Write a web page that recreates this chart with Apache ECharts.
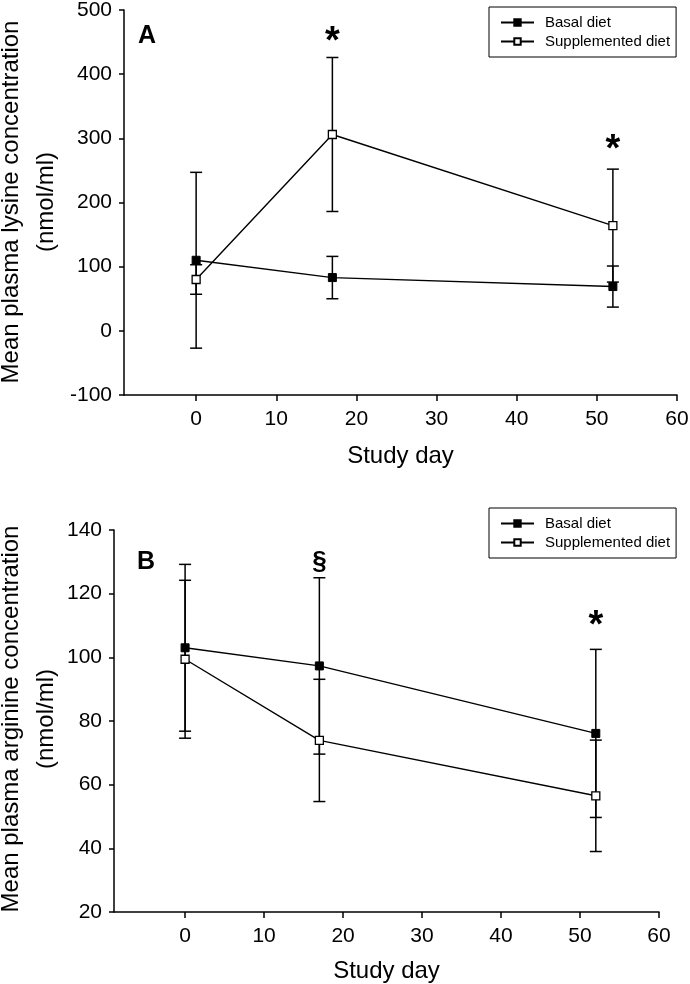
<!DOCTYPE html>
<html><head><meta charset="utf-8">
<script src="https://cdn.jsdelivr.net/npm/echarts@6/dist/echarts.min.js"></script>
<style>html,body{margin:0;padding:0;background:#fff}#c{width:690px;height:984px}</style>
</head><body><div id="c"></div>
<script>
// ---- data ----
const days = [0, 17, 52];
const xTicks = [0, 10, 20, 30, 40, 50, 60];
const lysineTicks = [-100, 0, 100, 200, 300, 400, 500];
const arginineTicks = [20, 40, 60, 80, 100, 120, 140];
const seriesNames = ['Basal diet', 'Supplemented diet'];
const lysineBasal = [110, 83, 69];
const lysineBasalSD = [137, 33, 32];
const lysineSupp = [80, 306, 164];
const lysineSuppSD = [23, 120, 88];
const arginineBasal = [103, 97.3, 76.1];
const arginineBasalSD = [26.2, 27.7, 26.4];
const arginineSupp = [99.4, 73.9, 56.5];
const arginineSuppSD = [24.8, 19.2, 17.5];
const lysineMarks = [[17, 459, '*'], [52, 291, '*']];
const arginineMarks = [[17, 130.6, '§'], [52, 111.7, '*']];
const panelLabels = ['A', 'B'];
const yTitleLines = [['Mean plasma lysine concentration', '(nmol/ml)'],
                     ['Mean plasma arginine concentration', '(nmol/ml)']];
const xTitle = 'Study day';

// ---- chart ----
const FF = '"Liberation Sans", Arial, Helvetica, sans-serif';
const chart = echarts.init(document.getElementById('c'), null, {renderer: 'canvas'});

function errSeries(ai, mean, sd) {
  return {
    type: 'custom', xAxisIndex: ai, yAxisIndex: ai, z: 1, silent: true, animation: false,
    data: days.map((d, i) => [d, mean[i] - sd[i], mean[i] + sd[i]]),
    renderItem(params, api) {
      const lo = api.coord([api.value(0), api.value(1)]);
      const hi = api.coord([api.value(0), api.value(2)]);
      const w = 6;
      const st = {stroke: '#000', lineWidth: 1.5};
      return {type: 'group', children: [
        {type: 'line', shape: {x1: lo[0], y1: lo[1], x2: hi[0], y2: hi[1]}, style: st},
        {type: 'line', shape: {x1: lo[0] - w, y1: lo[1], x2: lo[0] + w, y2: lo[1]}, style: st},
        {type: 'line', shape: {x1: hi[0] - w, y1: hi[1], x2: hi[0] + w, y2: hi[1]}, style: st}
      ]};
    }
  };
}
function lineSeries(ai, name, vals, open) {
  return {
    type: 'line', name: name, xAxisIndex: ai, yAxisIndex: ai, z: 3, animation: false,
    data: days.map((d, i) => [d, vals[i]]),
    symbol: 'rect', symbolSize: 8, showAllSymbol: true,
    lineStyle: {color: '#000', width: 1.4},
    itemStyle: open ? {color: '#fff', borderColor: '#000', borderWidth: 1.3}
                    : {color: '#000', borderColor: '#000', borderWidth: 1},
    emphasis: {disabled: true}
  };
}
function markSeries(ai, marks) {
  return {
    type: 'scatter', xAxisIndex: ai, yAxisIndex: ai, z: 4, silent: true, animation: false,
    data: marks.map(m => ({
      value: [m[0], m[1]],
      label: m[2] === '*' ? {show: true, formatter: m[2], fontSize: 38, offset: [0, 6]}
                          : {show: true, formatter: m[2], fontSize: 26, offset: [0, 2]}
    })),
    symbolSize: 1, itemStyle: {color: 'rgba(0,0,0,0)'},
    label: {show: true, position: 'inside', color: '#000', fontFamily: FF, fontWeight: 'bold', opacity: 1}
  };
}
function xAxis(ai) {
  return {
    type: 'value', gridIndex: ai, min: -9, max: 60,
    name: xTitle, nameLocation: 'middle', nameGap: ai ? 47 : 49,
    nameTextStyle: {fontSize: 24, color: '#000', fontFamily: FF},
    axisLine: {onZero: false, lineStyle: {color: '#000', width: 1.5}},
    axisTick: {show: true, length: 6, lineStyle: {color: '#000', width: 1.5}, customValues: xTicks},
    axisLabel: {fontSize: 21, color: '#000', fontFamily: FF, margin: 14, customValues: xTicks},
    splitLine: {show: false}
  };
}
function yAxis(ai, ticks) {
  return {
    type: 'value', gridIndex: ai, min: ticks[0], max: ticks[ticks.length - 1],
    interval: ticks[1] - ticks[0],
    axisLine: {show: true, onZero: false, lineStyle: {color: '#000', width: 1.5}},
    axisTick: {show: true, length: 5, lineStyle: {color: '#000', width: 1.5}},
    axisLabel: {fontSize: 21, color: '#000', fontFamily: FF, margin: 12},
    splitLine: {show: false}
  };
}
function legend(ai) {
  return {
    data: seriesNames, orient: 'vertical', left: 489, top: ai ? 508 : 7,
    selectedMode: false, borderColor: '#000', borderWidth: 1,
    padding: [8, 6, 8, 11], itemGap: 4, itemWidth: 33, itemHeight: 8,
    textStyle: {fontSize: 15, color: '#000', fontFamily: FF, padding: [0, 0, 0, 6]}
  };
}
function yTitle(lines, cy) {
  return [
    {type: 'text', x: 11, y: cy, rotation: Math.PI / 2,
     style: {text: lines[0], font: '24px ' + FF, fill: '#000', align: 'center', verticalAlign: 'middle'}},
    {type: 'text', x: 46, y: cy, rotation: Math.PI / 2,
     style: {text: lines[1], font: '24px ' + FF, fill: '#000', align: 'center', verticalAlign: 'middle'}}
  ];
}

chart.setOption({
  backgroundColor: '#fff',
  animation: false,
  grid: [
    {left: 124, right: 13, top: 10, height: 385, outerBoundsMode: 'none', containLabel: false},
    {left: 114, right: 31, top: 530, height: 382, outerBoundsMode: 'none', containLabel: false}
  ],
  xAxis: [xAxis(0), xAxis(1)],
  yAxis: [yAxis(0, lysineTicks), yAxis(1, arginineTicks)],
  legend: [legend(0), legend(1)],
  graphic: [
    {type: 'text', left: 138, top: 24, style: {text: panelLabels[0], font: 'bold 25px ' + FF, fill: '#000'}},
    {type: 'text', left: 137, top: 550, style: {text: panelLabels[1], font: 'bold 25px ' + FF, fill: '#000'}},
    ...yTitle(yTitleLines[0], 202),
    ...yTitle(yTitleLines[1], 719)
  ],
  series: [
    errSeries(0, lysineBasal, lysineBasalSD),
    errSeries(0, lysineSupp, lysineSuppSD),
    lineSeries(0, seriesNames[0], lysineBasal, false),
    lineSeries(0, seriesNames[1], lysineSupp, true),
    markSeries(0, lysineMarks),
    errSeries(1, arginineBasal, arginineBasalSD),
    errSeries(1, arginineSupp, arginineSuppSD),
    lineSeries(1, seriesNames[0], arginineBasal, false),
    lineSeries(1, seriesNames[1], arginineSupp, true),
    markSeries(1, arginineMarks)
  ]
});
</script>
</body></html>
